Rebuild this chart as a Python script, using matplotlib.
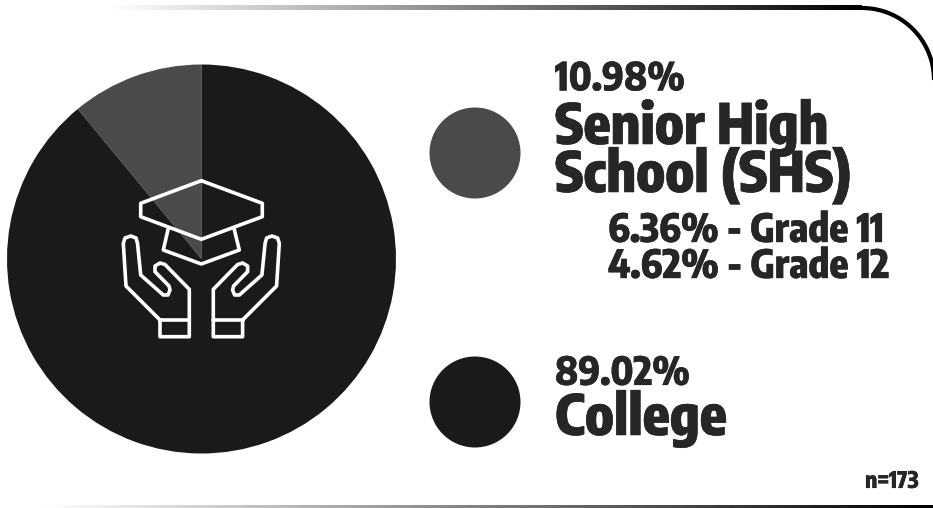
import numpy as np
import matplotlib
matplotlib.use('Agg')
import matplotlib.pyplot as plt
import matplotlib.patheffects as pe
from matplotlib.patches import Circle

W, H = 933, 508

categories = ['Senior High School (SHS)', 'College']
shares = [10.98, 89.02]
colors = ['#4a4a4a', '#1a1a1a']
grades = ['6.36% - Grade 11', '4.62% - Grade 12']
sample = 'n=173'

plt.rcParams['font.family'] = ['Encode Sans Condensed', 'Liberation Sans', 'DejaVu Sans']

fig = plt.figure(figsize=(W / 100, H / 100), dpi=100, facecolor='white')

# pie gets its own axes, placed in pixels
cx, cy, rad = 201.5, 259, 194.5
pie_ax = fig.add_axes([(cx - rad) / W, 1 - (cy + rad) / H, 2 * rad / W, 2 * rad / H])
pie_ax.pie(shares, colors=colors, startangle=90, radius=1,
           wedgeprops={'linewidth': 0})
pie_ax.set_xlim(-1, 1)
pie_ax.set_ylim(-1, 1)
pie_ax.axis('off')

# overlay in pixel coordinates, y down
ax = fig.add_axes([0, 0, 1, 1])
ax.set_xlim(0, W)
ax.set_ylim(H, 0)
ax.axis('off')
ax.patch.set_alpha(0)

# border lines, fading in from the left
top_x0, top_x1 = 110, 862
grad = np.linspace(1, 0, 256).reshape(1, -1)
ax.imshow(grad, cmap='gray', vmin=0, vmax=1, extent=[top_x0, top_x1, 10.5, 6], aspect='auto', zorder=1)
ax.imshow(grad, cmap='gray', vmin=0, vmax=1, extent=[40, W, 508, 505], aspect='auto', zorder=1)
ax.set_xlim(0, W)
ax.set_ylim(H, 0)

t = np.linspace(-np.pi / 2, 0, 60)
ax.plot(top_x1 + 72 * np.cos(t), 80 + 72 * np.sin(t), color='black', lw=3.0, solid_capstyle='butt')

# legend dots
ax.add_patch(Circle((475, 153), 45.5, color=colors[0], lw=0))
ax.add_patch(Circle((475, 402), 45.5, color=colors[1], lw=0))

# graduation cap and hands icon
icon = dict(color='white', lw=2.6, solid_joinstyle='round', solid_capstyle='round', zorder=5)
cap = np.array([(201.3, 180.7), (262.3, 203.3), (262.3, 216.7), (201.3, 239.3),
                (140.7, 216.7), (140.7, 203.3), (201.3, 180.7)])
cap_base = np.array([(168.3, 228.3), (163.3, 250), (201.3, 264), (239.3, 250), (234, 228.3)])
hand = np.array([(160, 320), (126, 286), (123.3, 243.3), (125, 238), (130.7, 236), (136, 238),
                 (137.5, 243.3), (140.7, 275), (163.3, 295), (168, 295), (170, 290), (169, 286),
                 (155, 271.7), (155, 266), (160, 263), (165, 264.5), (189.3, 289.3),
                 (189.3, 336.7), (160, 336.7), (160, 320), (189.3, 320)])
ax.plot(cap[:, 0], cap[:, 1], **icon)
ax.plot(cap_base[:, 0], cap_base[:, 1], **icon)
ax.plot(hand[:, 0], hand[:, 1], **icon)
ax.plot(402.6 - hand[:, 0], hand[:, 1], **icon)


def label(x, y, s, size, stroke, color='#262626'):
    ax.text(x, y, s, fontsize=size, fontweight='heavy', color=color, ha='left', va='baseline',
            path_effects=[pe.withStroke(linewidth=stroke, foreground=color)])


label(555, 90.5, f'{shares[0]:.2f}%', 28, 0.2)
label(555, 144, 'Senior High', 40, 0.4)
label(555, 192, 'School (SHS)', 40, 0.4)
label(608, 242, grades[0], 28, 0.3)
label(608, 278, grades[1], 28, 0.3)
label(555, 385, f'{shares[1]:.2f}%', 28, 0.2)
label(555, 435, categories[1], 40, 0.4)
label(865, 488, sample, 16.5, 0.1)

fig.savefig('out.png', dpi=100)
